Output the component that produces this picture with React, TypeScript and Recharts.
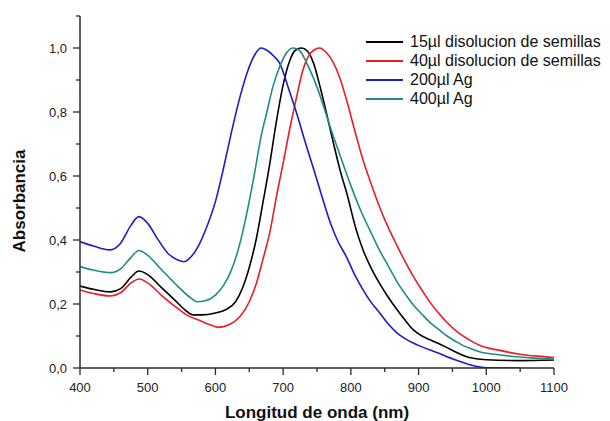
import { LineChart, Line, XAxis, YAxis, Legend } from 'recharts';

const FONT = '"Liberation Sans", Arial, sans-serif';
const AXIS_COLOR = '#2b2b2b';

const X_TICKS = [400, 450, 500, 550, 600, 650, 700, 750, 800, 850, 900, 950, 1000, 1050, 1100];
const Y_TICKS = [0, 0.1, 0.2, 0.3, 0.4, 0.5, 0.6, 0.7, 0.8, 0.9, 1.0, 1.1];

// 15µl disolucion de semillas
const SEED15_NM = [400, 420, 445, 460, 475, 487, 500, 520, 540, 555, 567, 580, 600, 615, 630, 640, 651, 660, 670, 680, 690, 700, 710, 718, 727, 736, 745, 755, 764, 774, 784, 794, 808, 818, 830, 843, 855, 868, 880, 892, 905, 917, 928, 940, 955, 970, 985, 1000, 1050, 1100];
const SEED15_ABS = [0.256, 0.246, 0.238, 0.248, 0.283, 0.303, 0.292, 0.252, 0.212, 0.182, 0.166, 0.166, 0.172, 0.182, 0.208, 0.25, 0.322, 0.4, 0.515, 0.635, 0.77, 0.885, 0.962, 0.993, 1.0, 0.99, 0.952, 0.875, 0.796, 0.705, 0.619, 0.546, 0.431, 0.369, 0.312, 0.262, 0.222, 0.183, 0.15, 0.12, 0.1, 0.088, 0.078, 0.066, 0.05, 0.036, 0.029, 0.026, 0.023, 0.025];

// 40µl disolucion de semillas
const SEED40_NM = [400, 420, 445, 460, 475, 487, 500, 520, 540, 560, 575, 590, 604, 620, 636, 650, 661, 670, 681, 690, 700, 710, 720, 729, 737, 745, 754, 764, 774, 784, 794, 806, 818, 830, 843, 855, 868, 880, 892, 905, 917, 930, 942, 960, 975, 991, 1020, 1050, 1075, 1100];
const SEED40_ABS = [0.244, 0.233, 0.225, 0.235, 0.265, 0.278, 0.266, 0.228, 0.193, 0.163, 0.15, 0.137, 0.127, 0.135, 0.16, 0.207, 0.268, 0.338, 0.431, 0.535, 0.64, 0.75, 0.848, 0.93, 0.973, 0.993, 1.0, 0.985, 0.955, 0.905, 0.835, 0.74, 0.65, 0.575, 0.5, 0.44, 0.383, 0.333, 0.287, 0.243, 0.205, 0.17, 0.142, 0.108, 0.088, 0.07, 0.055, 0.043, 0.037, 0.033];

// 200µl Ag
const AG200_NM = [400, 420, 444, 460, 475, 487, 500, 515, 530, 545, 553, 565, 575, 587, 600, 612, 624, 636, 648, 659, 667, 676, 686, 695, 707, 720, 732, 745, 757, 769, 780, 794, 806, 818, 830, 843, 855, 868, 880, 892, 905, 917, 930, 942, 955, 966, 980, 991, 1000, 1050];
const AG200_ABS = [0.395, 0.381, 0.369, 0.39, 0.445, 0.473, 0.452, 0.402, 0.358, 0.337, 0.332, 0.35, 0.382, 0.44, 0.52, 0.625, 0.74, 0.845, 0.93, 0.982, 1.0, 0.993, 0.975, 0.952, 0.88, 0.796, 0.71, 0.622, 0.538, 0.458, 0.4, 0.345, 0.29, 0.244, 0.205, 0.171, 0.138, 0.11, 0.092, 0.078, 0.066, 0.056, 0.046, 0.035, 0.025, 0.017, 0.008, 0.003, 0.001, 0.0];

// 400µl Ag
const AG400_NM = [400, 420, 445, 460, 475, 487, 500, 520, 540, 560, 573, 585, 600, 612, 622, 635, 646, 656, 668, 676, 685, 695, 705, 715, 725, 735, 745, 755, 770, 784, 800, 815, 828, 843, 855, 868, 880, 892, 905, 917, 930, 942, 955, 966, 980, 991, 1015, 1040, 1070, 1100];
const AG400_ABS = [0.317, 0.306, 0.298, 0.31, 0.345, 0.367, 0.352, 0.308, 0.265, 0.225, 0.207, 0.21, 0.228, 0.258, 0.298, 0.38, 0.48, 0.588, 0.73, 0.8, 0.88, 0.942, 0.985, 1.0, 0.99, 0.952, 0.905, 0.848, 0.75, 0.665, 0.57, 0.49, 0.431, 0.365, 0.32, 0.27, 0.232, 0.198, 0.168, 0.142, 0.12, 0.1, 0.083, 0.07, 0.058, 0.05, 0.042, 0.036, 0.031, 0.028];

const toRows = (nm: number[], abs: number[]) => nm.map((x, i) => ({ nm: x, v: abs[i] }));

const SERIES = [
  { name: '15µl disolucion de semillas', color: '#000000', data: toRows(SEED15_NM, SEED15_ABS) },
  { name: '40µl disolucion de semillas', color: '#ea1c24', data: toRows(SEED40_NM, SEED40_ABS) },
  { name: '200µl Ag', color: '#1c1cc8', data: toRows(AG200_NM, AG200_ABS) },
  { name: '400µl Ag', color: '#1f8c84', data: toRows(AG400_NM, AG400_ABS) },
];

function XTick({ x, y, payload }: any) {
  const major = payload.value % 100 === 0;
  return (
    <g>
      <line x1={x} y1={y} x2={x} y2={y + (major ? 7 : 4)} stroke={AXIS_COLOR} strokeWidth={1.3} />
      {major && (
        <text x={x} y={y + 24} textAnchor="middle" fontSize={13} fill="#222" fontFamily={FONT}>
          {payload.value}
        </text>
      )}
    </g>
  );
}

function YTick({ x, y, payload }: any) {
  const major = Math.round(payload.value * 10) % 2 === 0;
  return (
    <g>
      <line x1={x - (major ? 7 : 4)} y1={y} x2={x} y2={y} stroke={AXIS_COLOR} strokeWidth={1.3} />
      {major && (
        <text x={x - 13} y={y + 4.5} textAnchor="end" fontSize={13} fill="#222" fontFamily={FONT}>
          {payload.value.toFixed(1).replace('.', ',')}
        </text>
      )}
    </g>
  );
}

function XTitle({ viewBox }: any) {
  return (
    <text x={viewBox.x + viewBox.width / 2} y={418} textAnchor="middle" fontSize={17} fontWeight="bold" fill="#111" fontFamily={FONT}>
      Longitud de onda (nm)
    </text>
  );
}

function YTitle() {
  return (
    <text transform="translate(25,201) rotate(-90)" textAnchor="middle" fontSize={17} fontWeight="bold" fill="#111" fontFamily={FONT}>
      Absorbancia
    </text>
  );
}

function LegendBox() {
  return (
    <div style={{ fontFamily: FONT, fontSize: 16, color: '#111' }}>
      {SERIES.map((s) => (
        <div key={s.name} style={{ display: 'flex', alignItems: 'center', height: 19, whiteSpace: 'nowrap' }}>
          <span style={{ display: 'inline-block', width: 37, borderTop: `2px solid ${s.color}`, marginRight: 7 }} />
          <span style={{ lineHeight: '19px' }}>{s.name}</span>
        </div>
      ))}
    </div>
  );
}

export default function App() {
  return (
    <div style={{ position: 'absolute', left: 0, top: 0, width: 610, height: 421, background: '#fff' }}>
      <LineChart width={610} height={421} margin={{ top: 16, right: 56, bottom: 0, left: 0 }}>
        <XAxis
          type="number"
          dataKey="nm"
          domain={[400, 1100]}
          ticks={X_TICKS}
          interval={0}
          height={53}
          tickSize={0}
          tickMargin={0}
          tick={<XTick />}
          axisLine={{ stroke: AXIS_COLOR, strokeWidth: 1.5 }}
          allowDataOverflow
          label={{ content: XTitle }}
        />
        <YAxis
          type="number"
          domain={[0, 1.1]}
          ticks={Y_TICKS}
          interval={0}
          width={80}
          tickSize={0}
          tickMargin={0}
          tick={<YTick />}
          axisLine={{ stroke: AXIS_COLOR, strokeWidth: 1.5 }}
          allowDataOverflow
          label={{ content: YTitle }}
        />
        <Legend
          content={<LegendBox />}
          layout="vertical"
          align="center"
          verticalAlign="middle"
          wrapperStyle={{ left: 366, top: 32, width: 244 }}
        />
        {SERIES.map((s) => (
          <Line
            key={s.name}
            data={s.data}
            dataKey="v"
            name={s.name}
            type="monotone"
            stroke={s.color}
            strokeWidth={1.6}
            dot={false}
            activeDot={false}
            isAnimationActive={false}
          />
        ))}
      </LineChart>
    </div>
  );
}
